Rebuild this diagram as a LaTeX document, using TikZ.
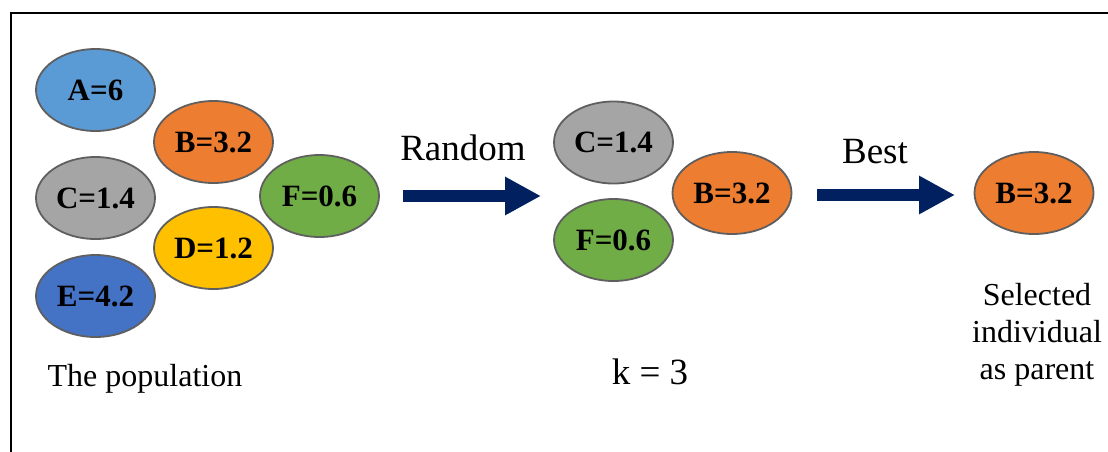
\documentclass[tikz,border=0pt]{standalone}
\usepackage{fontspec}
\setmainfont{LiberationSerif}[Extension=.ttf, UprightFont=*-Regular,
  BoldFont=*-Bold, ItalicFont=*-Italic, BoldItalicFont=*-BoldItalic]
\usetikzlibrary{shapes.geometric,arrows.meta}
\definecolor{cA}{HTML}{5B9BD5}
\definecolor{cB}{HTML}{ED7D31}
\definecolor{cC}{HTML}{A5A5A5}
\definecolor{cD}{HTML}{FFC000}
\definecolor{cE}{HTML}{4472C4}
\definecolor{cF}{HTML}{70AD47}
\definecolor{rim}{HTML}{5F5F5F}
\definecolor{navy}{HTML}{002060}
\tikzset{
  indiv/.style={ellipse, draw=rim, line width=1.8pt, minimum width=119pt,
    minimum height=82pt, inner sep=0pt,
    font=\fontsize{31}{36}\selectfont\bfseries},
  caption/.style={font=\fontsize{32}{37}\selectfont, align=center, inner sep=0pt},
  steplabel/.style={font=\fontsize{37}{42}\selectfont, inner sep=0pt},
  blockarrow/.style={navy, line width=12pt,
    -{Triangle[length=36pt,width=36pt]}}
}
\begin{document}
\begin{tikzpicture}[x=1pt,y=-1pt]
  \useasboundingbox (0,0) rectangle (1108,451);
  \clip (0,0) rectangle (1108,451);
  \fill[white] (0,0) rectangle (1108,451);
  % outer frame (runs past the right and bottom edges)
  \draw[line width=2.6pt] (11,13) rectangle (1130,480);

  % the population
  \node[indiv, fill=cA] (A) at (95.5,90) {A=6};
  \node[indiv, fill=cB] (B) at (213.5,142) {B=3.2};
  \node[indiv, fill=cC] (C) at (95.5,198) {C=1.4};
  \node[indiv, fill=cD] (D) at (213.5,248) {D=1.2};
  \node[indiv, fill=cE] (E) at (95.5,296) {E=4.2};
  \node[indiv, fill=cF] (F) at (319.5,196) {F=0.6};
  \node[caption] (pop) at (145,379) {The population};

  % random draw of k individuals
  \coordinate (r1) at (403,196);
  \coordinate (r2) at (541,196);
  \draw[blockarrow] (r1) -- (r2);
  \node[steplabel] (rnd) at (463,148) {Random};

  \node[indiv, fill=cC] (C2) at (613.5,142.5) {C=1.4};
  \node[indiv, fill=cF] (F2) at (613.5,240) {F=0.6};
  \node[indiv, fill=cB] (B2) at (732,193) {B=3.2};
  \node[steplabel] (k) at (650,372) {k = 3};

  % best of the tournament
  \coordinate (b1) at (817,195);
  \coordinate (b2) at (955,195);
  \draw[blockarrow] (b1) -- (b2);
  \node[steplabel] (best) at (875,152) {Best};

  \node[indiv, fill=cB] (B3) at (1034,193) {B=3.2};
  \node[caption] (sel) at (1037,335) {Selected\\individual\\as parent};
\end{tikzpicture}
\end{document}
